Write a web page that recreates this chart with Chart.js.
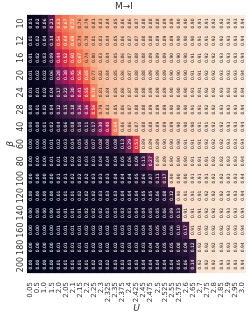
<!DOCTYPE html>
<html lang="en">
<head>
<meta charset="UTF-8">
<title>M→I</title>
<script src="https://cdn.jsdelivr.net/npm/chart.js@4.4.0/dist/chart.umd.min.js"></script>
<style>
  html, body { margin: 0; padding: 0; background: #fff; }
  #wrap { width: 252px; height: 314px; }
</style>
</head>
<body>
<div id="wrap"><canvas id="heat"></canvas></div>
<script>
  const uLabels = ['0.05', '0.5', '1.0', '1.5', '2.0', '2.05', '2.1', '2.15', '2.2', '2.25', '2.3', '2.325', '2.35', '2.375', '2.4',
    '2.425', '2.45', '2.475', '2.5', '2.525', '2.55', '2.575', '2.6', '2.65', '2.7', '2.75', '2.8', '2.85', '2.9', '2.95', '3.0'];
  const betaLabels = ['10', '12', '16', '20', '24', '28', '40', '60', '80', '100', '120', '140', '160', '180', '200'];

  // one array per beta row, one value per U column
  const b10 = [0.01, 0.02, 0.06, 0.21, 0.63, 0.67, 0.72, 0.76, 0.79, 0.81, 0.83, 0.84, 0.85, 0.86, 0.86, 0.87, 0.88, 0.88, 0.88, 0.89, 0.89, 0.90, 0.90, 0.90, 0.91, 0.91, 0.92, 0.92, 0.93, 0.93, 0.94];
  const b12 = [0.01, 0.02, 0.04, 0.14, 0.56, 0.64, 0.69, 0.74, 0.78, 0.81, 0.83, 0.84, 0.85, 0.86, 0.87, 0.87, 0.88, 0.88, 0.89, 0.89, 0.89, 0.90, 0.90, 0.90, 0.91, 0.91, 0.92, 0.92, 0.93, 0.93, 0.94];
  const b16 = [0.01, 0.02, 0.03, 0.09, 0.44, 0.52, 0.60, 0.67, 0.74, 0.80, 0.83, 0.84, 0.85, 0.86, 0.87, 0.88, 0.88, 0.89, 0.89, 0.89, 0.90, 0.90, 0.90, 0.91, 0.91, 0.92, 0.92, 0.93, 0.93, 0.93, 0.94];
  const b20 = [0.01, 0.02, 0.02, 0.06, 0.28, 0.38, 0.45, 0.56, 0.65, 0.77, 0.82, 0.84, 0.85, 0.86, 0.87, 0.88, 0.88, 0.89, 0.89, 0.89, 0.90, 0.90, 0.90, 0.91, 0.91, 0.92, 0.92, 0.93, 0.93, 0.93, 0.94];
  const b24 = [0.01, 0.01, 0.02, 0.04, 0.17, 0.22, 0.30, 0.41, 0.55, 0.70, 0.81, 0.84, 0.85, 0.86, 0.87, 0.88, 0.88, 0.89, 0.89, 0.89, 0.90, 0.90, 0.90, 0.91, 0.91, 0.92, 0.92, 0.93, 0.93, 0.93, 0.94];
  const b28 = [0.00, 0.01, 0.02, 0.04, 0.12, 0.15, 0.18, 0.26, 0.36, 0.56, 0.79, 0.83, 0.85, 0.86, 0.87, 0.88, 0.88, 0.89, 0.89, 0.89, 0.90, 0.90, 0.90, 0.91, 0.91, 0.92, 0.92, 0.93, 0.93, 0.93, 0.94];
  const b40 = [0.00, 0.00, 0.01, 0.02, 0.04, 0.06, 0.08, 0.10, 0.11, 0.17, 0.30, 0.40, 0.69, 0.86, 0.86, 0.87, 0.88, 0.88, 0.89, 0.89, 0.89, 0.90, 0.90, 0.90, 0.91, 0.91, 0.92, 0.92, 0.93, 0.93, 0.94];
  const b60 = [0.00, 0.00, 0.00, 0.01, 0.02, 0.03, 0.04, 0.05, 0.06, 0.07, 0.08, 0.08, 0.08, 0.13, 0.29, 0.53, 0.89, 0.89, 0.89, 0.90, 0.90, 0.90, 0.91, 0.91, 0.91, 0.92, 0.92, 0.92, 0.93, 0.93, 0.94];
  const b80 = [0.00, 0.00, 0.00, 0.01, 0.01, 0.02, 0.02, 0.03, 0.03, 0.03, 0.04, 0.04, 0.04, 0.05, 0.06, 0.09, 0.13, 0.27, 0.89, 0.89, 0.90, 0.90, 0.90, 0.91, 0.91, 0.91, 0.92, 0.92, 0.93, 0.93, 0.94];
  const b100 = [0.00, 0.00, 0.00, 0.00, 0.01, 0.01, 0.02, 0.02, 0.02, 0.03, 0.03, 0.03, 0.04, 0.04, 0.04, 0.05, 0.06, 0.07, 0.11, 0.17, 0.90, 0.90, 0.90, 0.91, 0.91, 0.91, 0.92, 0.92, 0.93, 0.93, 0.94];
  const b120 = [0.00, 0.00, 0.00, 0.00, 0.01, 0.01, 0.01, 0.02, 0.02, 0.02, 0.03, 0.03, 0.03, 0.04, 0.04, 0.04, 0.05, 0.05, 0.06, 0.08, 0.12, 0.90, 0.91, 0.91, 0.91, 0.92, 0.92, 0.92, 0.93, 0.93, 0.94];
  const b140 = [0.00, 0.00, 0.00, 0.00, 0.01, 0.01, 0.01, 0.01, 0.02, 0.02, 0.02, 0.03, 0.03, 0.03, 0.03, 0.04, 0.04, 0.05, 0.05, 0.06, 0.09, 0.13, 0.91, 0.91, 0.91, 0.92, 0.92, 0.92, 0.93, 0.93, 0.94];
  const b160 = [0.00, 0.00, 0.00, 0.00, 0.01, 0.01, 0.01, 0.01, 0.02, 0.02, 0.02, 0.02, 0.03, 0.03, 0.03, 0.03, 0.04, 0.04, 0.05, 0.05, 0.06, 0.10, 0.17, 0.91, 0.91, 0.92, 0.92, 0.92, 0.93, 0.93, 0.94];
  const b180 = [0.00, 0.00, 0.00, 0.00, 0.01, 0.01, 0.01, 0.01, 0.01, 0.02, 0.02, 0.02, 0.02, 0.03, 0.03, 0.03, 0.03, 0.04, 0.04, 0.05, 0.05, 0.08, 0.09, 0.12, 0.92, 0.92, 0.92, 0.93, 0.93, 0.93, 0.94];
  const b200 = [0.00, 0.00, 0.00, 0.00, 0.01, 0.01, 0.01, 0.01, 0.01, 0.02, 0.02, 0.02, 0.03, 0.03, 0.03, 0.03, 0.04, 0.04, 0.04, 0.04, 0.04, 0.05, 0.06, 0.14, 0.92, 0.92, 0.92, 0.93, 0.93, 0.93, 0.94];

  const rows = [b10, b12, b16, b20, b24, b28, b40, b60, b80, b100, b120, b140, b160, b180, b200];

  // seaborn "rocket" anchors
  const rocket = [
    [0, [3, 5, 26]], [1 / 7, [53, 25, 62]], [2 / 7, [112, 31, 87]], [3 / 7, [173, 23, 89]],
    [4 / 7, [225, 51, 66]], [5 / 7, [243, 118, 81]], [6 / 7, [246, 180, 143]], [1, [250, 235, 221]]
  ];
  const all = rows.flat();
  const vmin = Math.min(...all), vmax = Math.max(...all);

  function rgbFor(v) {
    let t = (v - vmin) / (vmax - vmin);
    t = Math.max(0, Math.min(1, t));
    for (let i = 1; i < rocket.length; i++) {
      if (t <= rocket[i][0]) {
        const [t0, c0] = rocket[i - 1], [t1, c1] = rocket[i];
        const f = (t - t0) / (t1 - t0);
        return c0.map((c, k) => Math.round(c + (c1[k] - c) * f));
      }
    }
    return rocket[rocket.length - 1][1];
  }

  function lum(rgb) {
    const l = rgb.map(c => {
      c /= 255;
      return c <= 0.03928 ? c / 12.92 : Math.pow((c + 0.055) / 1.055, 2.4);
    });
    return 0.2126 * l[0] + 0.7152 * l[1] + 0.0722 * l[2];
  }

  const datasets = rows.map((vals, r) => ({
    label: betaLabels[r],
    data: vals.map(() => [r, r + 1]),
    backgroundColor: vals.map(v => 'rgb(' + rgbFor(v).join(',') + ')'),
    borderWidth: 0,
    grouped: false,
    barPercentage: 1,
    categoryPercentage: 1
  }));

  // cell numbers, y tick labels and the beta title
  const annotate = {
    id: 'annotate',
    afterDatasetsDraw(chart) {
      const ctx = chart.ctx;
      const xs = chart.scales.x, ys = chart.scales.y;
      ctx.save();
      ctx.textAlign = 'center';
      ctx.textBaseline = 'middle';
      ctx.font = '4.5px "DejaVu Sans"';
      rows.forEach((vals, r) => {
        const y = ys.getPixelForValue(r + 0.5);
        vals.forEach((v, c) => {
          const x = xs.getPixelForValue(c);
          ctx.fillStyle = lum(rgbFor(v)) > 0.408 ? '#262626' : '#ffffff';
          ctx.save();
          ctx.translate(x, y);
          ctx.rotate(-Math.PI / 2);
          ctx.fillText(v.toFixed(2), 0, 0);
          ctx.restore();
        });
      });
      ctx.fillStyle = '#333';
      ctx.font = '8px "DejaVu Sans"';
      betaLabels.forEach((lab, r) => {
        ctx.save();
        ctx.translate(ys.left + ys.width - 6, ys.getPixelForValue(r + 0.5));
        ctx.rotate(-Math.PI / 2);
        ctx.fillText(lab, 0, 0);
        ctx.restore();
      });
      ctx.font = 'italic 9px "DejaVu Sans"';
      ctx.save();
      ctx.translate(ys.left + ys.width - 16, (ys.top + ys.bottom) / 2);
      ctx.rotate(-Math.PI / 2);
      ctx.fillText('β', 0, 0);
      ctx.restore();
      ctx.restore();
    }
  };

  new Chart(document.getElementById('heat'), {
    type: 'bar',
    data: { labels: uLabels, datasets: datasets },
    options: {
      responsive: true,
      maintainAspectRatio: false,
      animation: false,
      layout: { padding: { left: 0, right: 4, top: 0, bottom: 0 } },
      plugins: {
        legend: { display: false },
        tooltip: { enabled: false },
        title: {
          display: true,
          text: 'M→I',
          color: '#333',
          font: { family: 'DejaVu Sans', size: 9, weight: 'normal' },
          padding: { top: 1, bottom: 3 }
        }
      },
      scales: {
        x: {
          grid: { display: false },
          border: { display: false },
          ticks: {
            color: '#333',
            font: { family: 'DejaVu Sans', size: 7 },
            minRotation: 90,
            maxRotation: 90,
            autoSkip: false,
            padding: 1
          },
          title: {
            display: true,
            text: 'U',
            color: '#333',
            font: { family: 'DejaVu Sans', size: 9, style: 'italic' },
            padding: { top: 0, bottom: 0 }
          }
        },
        y: {
          min: 0,
          max: betaLabels.length,
          reverse: true,
          grid: { display: false },
          border: { display: false },
          ticks: { display: false },
          afterFit(scale) { scale.width = 27; }
        }
      }
    },
    plugins: [annotate]
  });
</script>
</body>
</html>
